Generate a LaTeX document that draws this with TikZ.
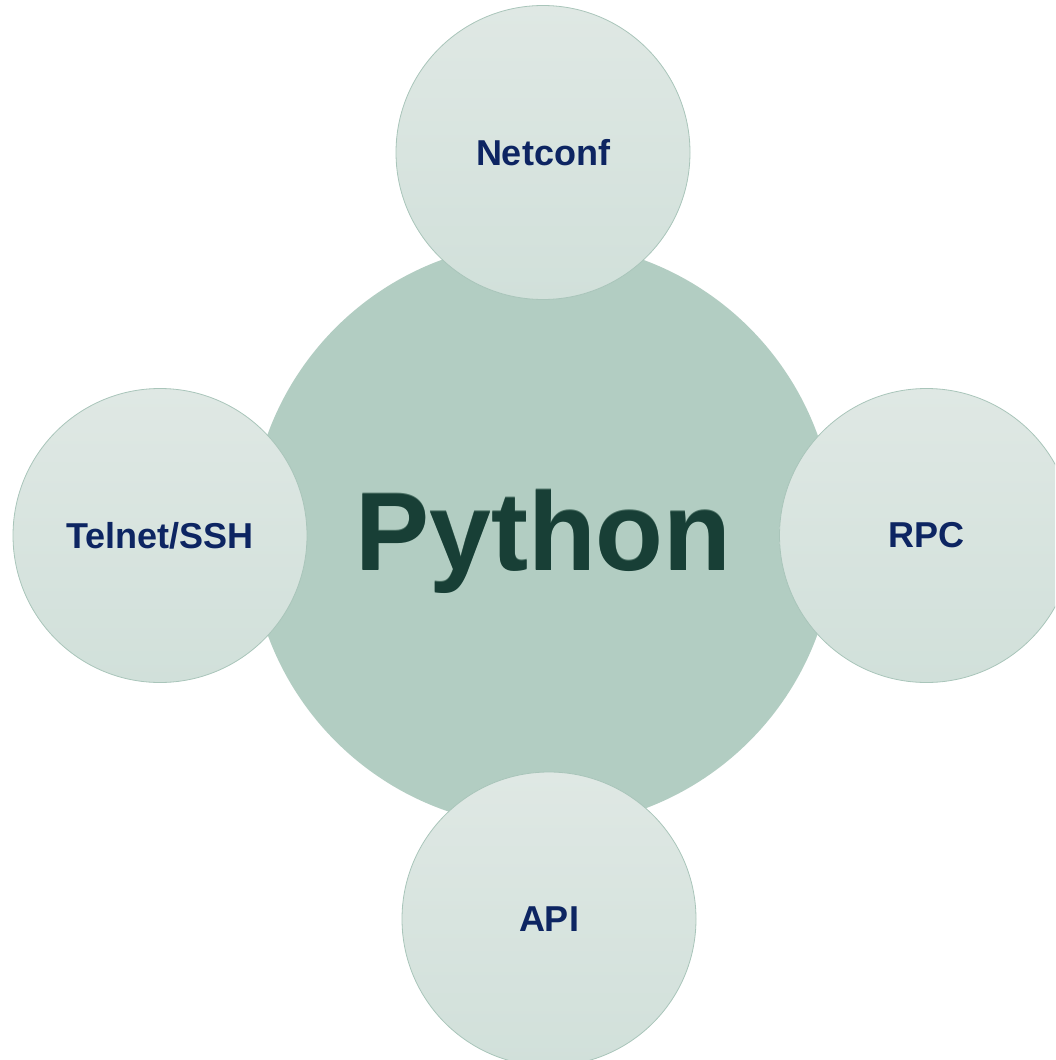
\documentclass[tikz,border=0pt]{standalone}
\usepackage{fontspec}
\setmainfont{Liberation Sans}
\definecolor{hubfill}{HTML}{B2CDC2}
\definecolor{satTop}{HTML}{DFE8E4}
\definecolor{satBot}{HTML}{D1E0DA}
\definecolor{satEdge}{HTML}{A9C5BA}
\definecolor{labelblue}{HTML}{0D2562}
\definecolor{pygreen}{HTML}{183F36}
\definecolor{pyglint}{HTML}{4F7468}
\tikzset{
  hub/.style={circle, fill=hubfill, draw=none, minimum size=585pt, inner sep=0pt},
  satellite/.style={circle, top color=satTop, bottom color=satBot, draw=satEdge,
    line width=0.8pt, minimum size=294pt, inner sep=0pt,
    font=\fontsize{36}{36}\selectfont\bfseries, text=labelblue},
  bigword/.style={font=\fontsize{111}{111}\selectfont\bfseries, anchor=base, inner sep=0pt}
}
\begin{document}
\begin{tikzpicture}[x=1pt,y=-1pt]
  \useasboundingbox (0,0) rectangle (1055,1060);
  \clip (0,0) rectangle (1055,1060);
  % central circle
  \node[hub] (core) at (542.5,534.5) {};
  % embossed title
  \node[bigword, text=pyglint] (pyshade) at (543.5,569) {Python};
  \node[bigword, text=pygreen] (pyword) at (543.5,570) {Python};
  % surrounding protocol circles
  \node[satellite] (netconf) at (543,152.5) {Netconf};
  \node[satellite] (telnet) at (160,535.5) {Telnet/SSH};
  \node[satellite] (rpc) at (926.5,535.5) {RPC};
  \node[satellite] (api) at (549,919) {API};
\end{tikzpicture}
\end{document}
